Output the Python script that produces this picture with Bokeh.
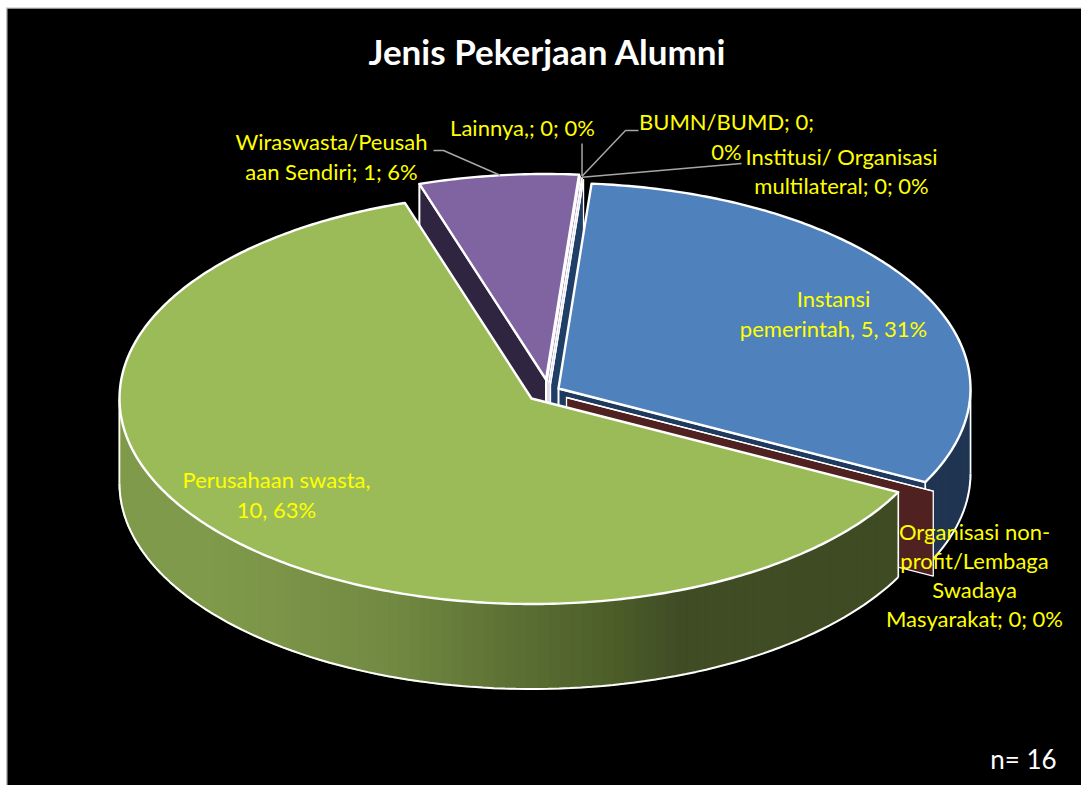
import math
from bokeh.plotting import figure
from bokeh.models import Range1d
from bokeh.core.properties import value
from bokeh.embed import file_html
from bokeh.resources import INLINE

# ---- chart data (clockwise from the blue slice) ----
categories = ["Instansi pemerintah", "Organisasi non-profit/Lembaga Swadaya Masyarakat",
              "Perusahaan swasta", "Wiraswasta/Peusahaan Sendiri", "Lainnya,",
              "BUMN/BUMD", "Institusi/ Organisasi multilateral"]
values = [5, 0, 10, 1, 0, 0, 0]
sample_size = 16
title_text = "Jenis Pekerjaan Alumni"

# ---- geometry and style ----
W, H = 1081, 785
CX, CY, A, B, DEPTH = 544, 392, 412, 205.5, 85
START_T = -85.4
explode = {"Instansi pemerintah": (14, -4),
           "Organisasi non-profit/Lembaga Swadaya Masyarakat": (22, 5),
           "Perusahaan swasta": (-13, 6),
           "Wiraswasta/Peusahaan Sendiri": (1.5, -13),
           "Lainnya,": (2.5, -11.5), "BUMN/BUMD": (4.5, -10),
           "Institusi/ Organisasi multilateral": (6, -8)}
top_col = {"Instansi pemerintah": "#4F81BD",
           "Organisasi non-profit/Lembaga Swadaya Masyarakat": "#C0504D",
           "Perusahaan swasta": "#9BBB59",
           "Wiraswasta/Peusahaan Sendiri": "#8064A2",
           "Lainnya,": "#B3A2C7", "BUMN/BUMD": "#B3A2C7",
           "Institusi/ Organisasi multilateral": "#B3A2C7"}
wall_col = {"Instansi pemerintah": "#1F3A5F",
            "Organisasi non-profit/Lembaga Swadaya Masyarakat": "#4F2120",
            "Perusahaan swasta": "#3F4B23",
            "Wiraswasta/Peusahaan Sendiri": "#2F2540",
            "Lainnya,": "#A594BE", "BUMN/BUMD": "#A594BE",
            "Institusi/ Organisasi multilateral": "#1F3F66"}
green_stops = [(119, (127, 154, 74)), (210, (127, 154, 74)), (300, (122, 146, 71)),
               (400, (112, 136, 65)), (500, (94, 114, 53)), (600, (78, 96, 42)),
               (680, (64, 76, 36)), (900, (63, 75, 35))]
blue_stops = [(560, (31, 53, 82)), (980, (31, 53, 82))]


def ramp(stops, x):
    for (x0, c0), (x1, c1) in zip(stops, stops[1:]):
        if x <= x1:
            f = max(0, (x - x0) / (x1 - x0))
            return "#%02x%02x%02x" % tuple(round(a + (b - a) * f) for a, b in zip(c0, c1))
    return "#%02x%02x%02x" % stops[-1][1]


p = figure(width=W, height=H, output_backend="svg", toolbar_location=None,
           x_range=Range1d(0, W), y_range=Range1d(H, 0),
           min_border=0, background_fill_color="white", border_fill_color="white",
           outline_line_color=None, x_axis_type=None, y_axis_type=None)
p.grid.visible = False

# slide background with its thin grey frame
p.quad(left=[5.5], right=[W], top=[7], bottom=[H], fill_color="#BFBFBF", line_color=None)
p.quad(left=[7], right=[W], top=[8.3], bottom=[H], fill_color="black", line_color=None)

total = sum(values)
angles = {}
t = START_T
for c, v in zip(categories, values):
    span = v / total * 360
    angles[c] = (t, t + span)
    t += span


def rim(c, t):
    ax = CX + explode[c][0]
    ay = CY + explode[c][1]
    r = math.radians(t)
    return ax + A * math.cos(r), ay + B * math.sin(r)


def draw(c, stops=None):
    t0, t1 = angles[c]
    ax, ay = CX + explode[c][0], CY + explode[c][1]
    zero = t1 <= t0
    width = 1.3 if zero else 2.4
    # cut faces, only the ones turned to the viewer
    faces = []
    if math.cos(math.radians(t0)) < 0 and not zero:
        faces.append(t0)
    if math.cos(math.radians(t1)) > 0:
        faces.append(t1)
    for tt in faces:
        rx, ry = rim(c, tt)
        p.patch([ax, rx, rx, ax], [ay, ry, ry + DEPTH, ay + DEPTH],
                fill_color=wall_col[c], line_color="white", line_width=min(width, 2), line_join="round")
    # outer wall: only the front half of the rim (sin t > 0)
    f0, f1 = None, None
    for shift in (0, 360, -360):
        a0, a1 = max(t0, shift), min(t1, 180 + shift)
        if a1 > a0:
            f0, f1 = a0, a1
    if f0 is not None:
        n = max(2, int((f1 - f0) / 1.5))
        ts = [f0 + (f1 - f0) * i / n for i in range(n + 1)]
        pts = [rim(c, tt) for tt in ts]
        xs, ys, cols = [], [], []
        for (x0, y0), (x1, y1) in zip(pts, pts[1:]):
            xs.append([x0, x1, x1, x0])
            ys.append([y0, y1, y1 + DEPTH, y0 + DEPTH])
            cols.append(ramp(stops, (x0 + x1) / 2) if stops else wall_col[c])
        p.patches(xs, ys, fill_color=cols, line_color=cols, line_width=2)
        p.line([q[0] for q in pts], [q[1] + DEPTH for q in pts], line_color="white", line_width=2)
        for q in (pts[0], pts[-1]):
            p.line([q[0], q[0]], [q[1], q[1] + DEPTH], line_color="white", line_width=1.6)
    n = max(2, int((t1 - t0) / 0.75))
    tops = [rim(c, t0 + (t1 - t0) * i / n) for i in range(n + 1)]
    p.patch([ax] + [q[0] for q in tops], [ay] + [q[1] for q in tops],
            fill_color=top_col[c], line_color="white", line_width=width, line_join="round")


# back to front
draw(categories[3])
draw(categories[4])
draw(categories[5])
draw(categories[6])
draw(categories[0], blue_stops)
draw(categories[1])
draw(categories[2], green_stops)

# leader lines, ending on the rims
LEADER = "#A6A6A6"
wx, wy = rim(categories[3], -96.4)
p.line([433, 443, wx], [150, 150, wy], line_color=LEADER, line_width=1.5)
lx, ly = rim(categories[4], angles[categories[4]][0])
tipx, tipy = lx + 2, ly
p.line([tipx, tipx], [143, tipy], line_color=LEADER, line_width=1.5)
p.line([638, 625, tipx], [130, 130, tipy], line_color=LEADER, line_width=1.5)
p.line([741, tipx], [163, tipy + 1], line_color=LEADER, line_width=1.5)

FONT = value("Lato")
labels = [("Wiraswasta/Peusah", 331, 140.5), ("aan Sendiri; 1; 6%", 331, 170.5),
          ("Lainnya,; 0; 0%", 522, 126.5),
          ("BUMN/BUMD; 0;", 726, 120.5), ("0%", 726, 150.5),
          ("Institusi/ Organisasi", 841, 155.5), ("multilateral; 0; 0%", 841, 184.5),
          ("Instansi", 833, 297.5), ("pemerintah, 5, 31%", 833, 327.5),
          ("Perusahaan swasta,", 276, 478.5), ("10, 63%", 276, 508.5),
          ("Organisasi non-", 974, 530.5), ("profit/Lembaga", 974, 559.5),
          ("Swadaya", 974, 588.5), ("Masyarakat; 0; 0%", 974, 617.5)]
p.text([l[1] for l in labels], [l[2] for l in labels], text=[l[0] for l in labels],
       text_color="#FFFF00", text_font=FONT, text_font_size="22px",
       text_align="center", text_baseline="middle")
p.text([547], [50], text=[title_text], text_color="white", text_font=FONT,
       text_font_style="bold", text_font_size="35px", text_align="center", text_baseline="middle")
p.text([1023], [758], text=[f"n= {sample_size}"], text_color="white", text_font=FONT,
       text_font_size="26px", text_align="center", text_baseline="middle")

open("out.html", "w").write(file_html(p, INLINE))
